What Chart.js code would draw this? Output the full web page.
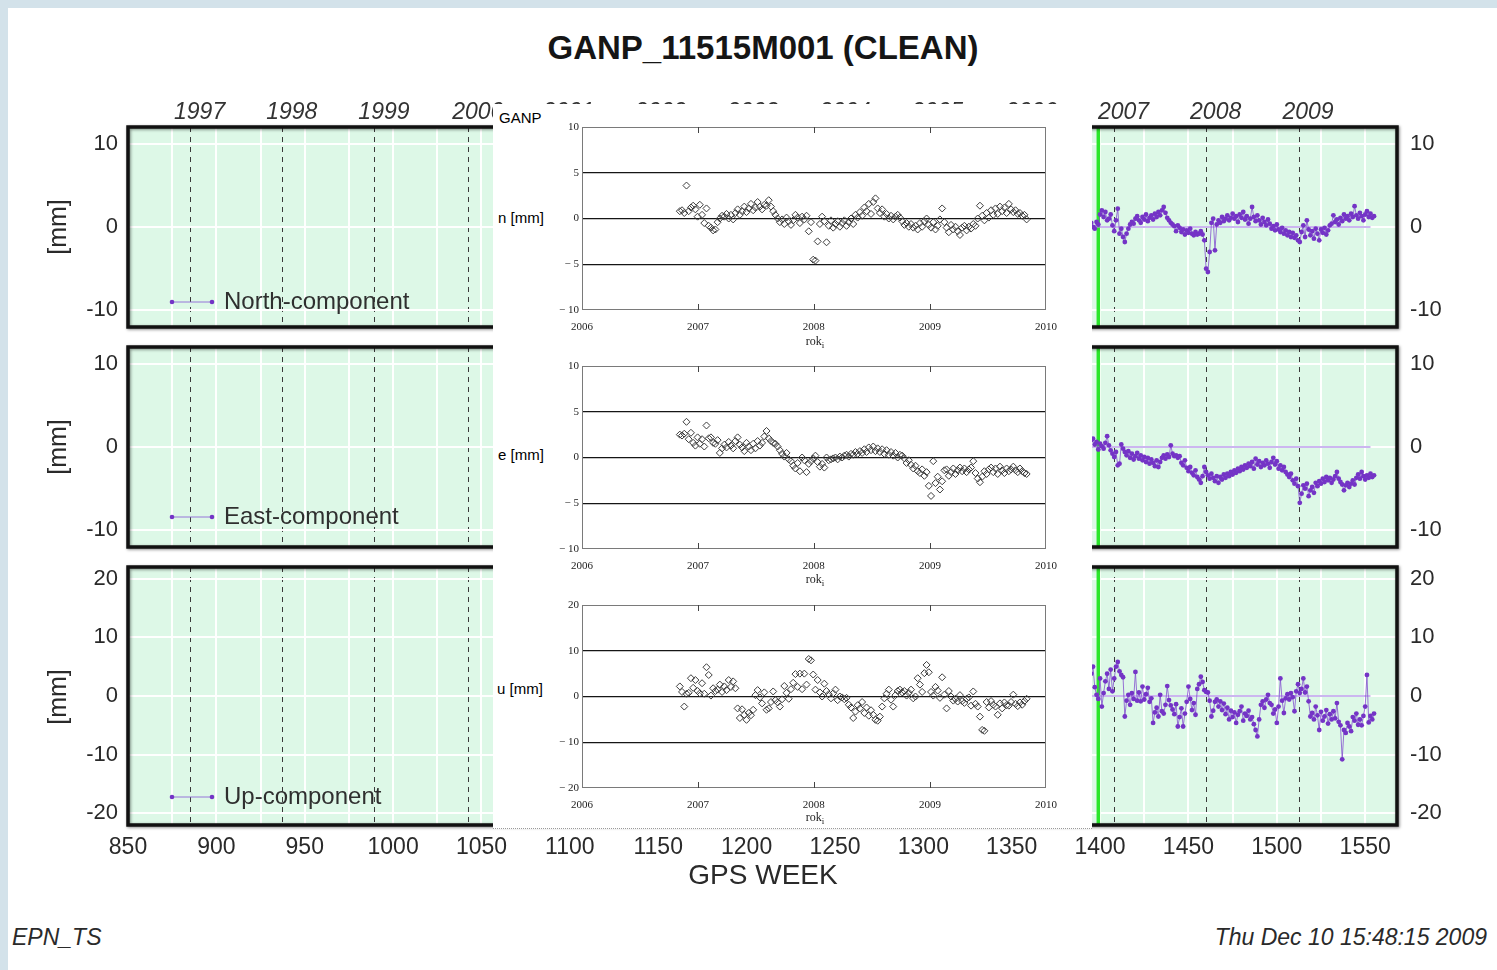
<!DOCTYPE html>
<html>
<head>
<meta charset="utf-8">
<script src="https://cdn.jsdelivr.net/npm/chart.js@4.4.0/dist/chart.umd.min.js"></script>
<style>
  html, body { margin:0; padding:0; }
  body { width:1497px; height:970px; overflow:hidden; background:#d3e2ea; position:relative;
         font-family:"Liberation Sans", Arial, sans-serif; color:#222; }
  .abs { position:absolute; }
  #page { left:8px; top:8px; width:1489px; height:962px; background:#fff; }
  #title { left:0; width:1526px; top:30px; text-align:center; font-weight:bold; font-size:33px; line-height:36px; color:#151515; }
  .mm { font-size:25px; line-height:28px; width:80px; text-align:center; transform:rotate(-90deg); color:#2a2a2a; }
  #gpsweek { left:0; width:1526px; top:858px; text-align:center; font-size:28px; line-height:34px; color:#2a2a2a; }
  #epn { left:12px; top:923px; font-size:23px; line-height:28px; font-style:italic; color:#2a2a2a; }
  #stamp { right:10px; top:923px; font-size:23px; line-height:28px; font-style:italic; color:#2a2a2a; }
  #overlay { left:493px; top:104px; width:599px; height:724px; background:#fff; border-bottom:1px dotted #9a9a9a; z-index:5; }
  .ilab { font-size:15px; line-height:18px; color:#000; }
  .rok { font-family:"Liberation Serif", "DejaVu Serif", serif; font-size:12px; line-height:14px; width:60px; text-align:center; color:#222; }
</style>
</head>
<body>
<div id="page" class="abs"></div>
<div id="title" class="abs">GANP_11515M001 (CLEAN)</div>

<canvas id="bg1" class="abs" width="1497" height="250" style="left:0;top:90px;"></canvas>
<canvas id="bg2" class="abs" width="1497" height="220" style="left:0;top:340px;"></canvas>
<canvas id="bg3" class="abs" width="1497" height="340" style="left:0;top:560px;"></canvas>

<div class="abs mm" style="left:17px;top:213px;">[mm]</div>
<div class="abs mm" style="left:17px;top:433px;">[mm]</div>
<div class="abs mm" style="left:17px;top:683px;">[mm]</div>

<div id="gpsweek" class="abs">GPS WEEK</div>
<div id="epn" class="abs">EPN_TS</div>
<div id="stamp" class="abs">Thu Dec 10 15:48:15 2009</div>

<div id="overlay" class="abs">
  <div class="abs ilab" style="left:6px;top:5px;">GANP</div>
  <div class="abs ilab" style="left:5px;top:105px;">n [mm]</div>
  <div class="abs ilab" style="left:5px;top:342px;">e [mm]</div>
  <div class="abs ilab" style="left:4px;top:576px;">u [mm]</div>
  <canvas id="in1" class="abs" width="599" height="240" style="left:0;top:6px;"></canvas>
  <canvas id="in2" class="abs" width="599" height="238" style="left:0;top:246px;"></canvas>
  <canvas id="in3" class="abs" width="599" height="238" style="left:0;top:484px;"></canvas>
  <div class="abs rok" style="left:292px;top:230px;">rok<sub style="font-size:9px">i</sub></div>
  <div class="abs rok" style="left:292px;top:468px;">rok<sub style="font-size:9px">i</sub></div>
  <div class="abs rok" style="left:292px;top:706px;">rok<sub style="font-size:9px">i</sub></div>
</div>

<script>
// ---------------- DATA ----------------
// EPN time series (background panels), GPS weeks
const bgWeeks = [
1393,1394,1395,1396,1397,1398,1399,1400,1401,1402,
1403,1404,1405,1406,1407,1408,1409,1410,1411,1412,
1413,1414,1415,1416,1417,1418,1419,1420,1421,1422,
1423,1424,1425,1426,1427,1428,1429,1430,1431,1432,
1433,1434,1435,1436,1437,1438,1439,1440,1441,1442,
1443,1444,1445,1446,1447,1448,1449,1450,1451,1452,
1453,1454,1455,1456,1457,1458,1459,1460,1461,1462,
1463,1464,1465,1466,1467,1468,1469,1470,1471,1472,
1473,1474,1475,1476,1477,1478,1479,1480,1481,1482,
1483,1484,1485,1486,1487,1488,1489,1490,1491,1492,
1493,1494,1495,1496,1497,1498,1499,1500,1501,1502,
1503,1504,1505,1506,1507,1508,1509,1510,1511,1512,
1513,1514,1515,1516,1517,1518,1519,1520,1521,1522,
1523,1524,1525,1526,1527,1528,1529,1530,1531,1532,
1533,1534,1535,1536,1537,1538,1539,1540,1541,1542,
1543,1544,1545,1546,1547,1548,1549,1550,1551,1552,
1553,1554,1555];

const northBg = [
0.2,-0.3,0.5,0.0,-0.2,0.6,0.3,1.5,2.0,1.2,
1.8,0.8,1.0,1.5,0.2,-0.5,0.8,2.2,-0.8,-0.2,
-1.2,-1.8,-0.8,-0.2,0.3,0.6,0.4,1.0,1.3,0.8,
0.5,1.2,0.9,1.5,0.7,1.1,1.4,0.9,1.6,1.2,
1.8,1.4,2.0,2.4,1.7,1.1,0.8,0.5,0.3,0.1,
-0.5,0.2,-0.1,-0.6,-0.3,-0.9,-0.4,-0.7,-0.2,-0.8,
-1.0,-0.6,-0.9,-0.8,-0.5,-0.9,-1.6,-5.0,-5.4,-3.0,
0.5,1.0,-2.8,0.3,0.8,0.5,1.2,0.7,1.0,1.4,
0.8,1.1,1.6,1.0,1.3,0.6,1.5,1.1,1.8,0.9,
1.3,0.4,1.0,2.4,1.2,0.7,1.4,0.8,0.3,1.1,
0.6,0.2,0.9,0.4,-0.2,0.1,-0.4,0.3,-0.3,-0.6,
-0.1,-0.8,-0.4,-1.0,-0.6,-1.2,-0.7,-1.3,-1.0,-1.6,
-1.8,-0.6,0.2,-1.2,0.8,-0.3,-1.0,-0.5,-1.4,-0.2,
-0.8,-1.6,-0.3,-0.7,-0.1,-0.9,-0.4,0.2,0.4,1.4,
0.6,0.9,0.3,1.1,0.7,1.5,1.0,1.3,0.8,1.6,
1.2,2.5,1.4,1.0,1.7,1.3,0.8,1.5,1.9,1.2,
1.6,1.1,1.3];

const eastBg = [
0.5,0.2,0.8,1.0,0.3,0.6,-0.3,0.4,0.1,-0.2,
0.5,1.3,0.2,-0.4,-0.8,-1.2,-0.6,-2.2,-2.0,0.3,
-0.2,-0.6,-1.0,-0.5,-1.3,-0.8,-1.5,-1.1,-0.7,-1.4,
-1.0,-1.6,-1.2,-1.8,-1.3,-2.0,-1.5,-1.9,-2.3,-1.6,
-2.4,-1.8,-1.3,-1.0,-1.4,-0.9,-1.2,0.2,-0.8,-1.1,
-1.0,-1.3,-1.1,-1.9,-2.2,-1.6,-2.5,-2.9,-2.4,-3.1,
-3.4,-2.8,-3.6,-3.9,-4.3,-3.5,-2.4,-3.0,-3.4,-3.8,
-3.2,-3.7,-4.1,-3.5,-4.3,-3.6,-3.9,-3.3,-3.7,-3.2,
-3.5,-3.0,-3.3,-2.8,-3.1,-2.6,-2.9,-2.4,-2.7,-2.2,
-2.5,-2.0,-2.3,-1.8,-2.6,-1.4,-2.1,-1.7,-2.4,-1.9,
-2.2,-1.6,-2.0,-2.5,-1.8,-1.3,-2.1,-1.7,-2.6,-2.2,
-2.8,-2.4,-3.0,-3.3,-3.6,-3.2,-4.0,-4.4,-3.8,-4.7,
-6.7,-5.6,-4.6,-5.0,-4.4,-5.9,-5.2,-4.8,-5.5,-4.3,
-4.7,-4.1,-4.4,-3.8,-4.2,-3.6,-4.0,-3.7,-4.3,-3.9,
-3.5,-3.0,-3.8,-4.2,-4.5,-5.2,-4.6,-4.3,-4.8,-4.4,
-4.0,-4.5,-3.7,-3.3,-3.8,-3.0,-3.5,-3.9,-3.4,-3.7,
-3.2,-3.6,-3.4];

const upBg = [
2.0,0.5,3.8,5.0,1.5,0.2,-0.5,3.0,-1.8,0.5,
2.5,3.8,1.2,4.5,0.8,3.0,5.0,5.8,4.2,3.6,
3.2,-3.5,-0.8,0.2,-1.5,0.5,-0.5,4.1,-0.8,0.6,
-0.9,1.6,-0.6,0.3,1.4,-1.0,-0.4,-4.6,-2.8,-2.0,
-3.5,0.2,-2.6,-3.0,-1.5,1.7,-0.7,-1.6,-2.3,-3.1,
-1.4,-5.2,-3.6,-2.1,-5.2,-3.0,-1.0,1.6,-0.5,-2.4,
-1.2,-3.2,1.2,2.0,3.3,2.4,1.0,0.7,0.6,-0.8,
-3.5,-2.5,-1.0,-0.6,-1.8,-0.9,-2.4,-1.3,-3.1,-2.0,
-4.0,-2.5,-3.6,-2.8,-4.6,-3.2,-2.6,-1.8,-4.2,-3.0,
-3.4,-2.5,-4.0,-3.6,-4.8,-5.8,-6.9,-4.0,-1.5,-0.9,
-2.0,-0.6,0.2,-1.2,-1.5,-3.0,-2.3,-4.6,-1.8,3.0,
-0.8,-2.9,-0.4,0.3,-0.6,0.5,-0.2,-2.6,0.8,2.0,
0.5,1.2,3.0,0.6,1.6,-0.9,-3.5,-2.9,-4.0,-1.8,
-3.3,-5.8,-2.7,-4.2,-3.5,-2.4,-4.7,-3.1,-4.0,-2.6,
-3.8,-1.2,-4.4,-5.0,-10.8,-5.8,-6.3,-4.6,-5.2,-6.0,
-3.6,-4.2,-3.0,-4.9,-4.0,-5.0,-3.4,-1.8,3.6,-4.5,
-3.4,-4.0,-3.0];

// reference (zero) line of the fitted model and start of the clean period
const modelWeeks = [1393, 1553];
const modelValues = [0, 0];
const cleanStartWeek = 1399;

// GANP inset series (Mathcad plot), same epochs expressed in GPS weeks
const insetWeeks = [
1400,1401,1402,1403,1404,1405,1406,1407,1408,1409,
1410,1411,1412,1413,1414,1415,1416,1417,1418,1419,
1420,1421,1422,1423,1424,1425,1426,1427,1428,1429,
1430,1431,1432,1433,1434,1435,1436,1437,1438,1439,
1440,1441,1442,1443,1444,1445,1446,1447,1448,1449,
1450,1451,1452,1453,1454,1455,1456,1457,1458,1459,
1460,1461,1462,1463,1464,1465,1466,1467,1468,1469,
1470,1471,1472,1473,1474,1475,1476,1477,1478,1479,
1480,1481,1482,1483,1484,1485,1486,1487,1488,1489,
1490,1491,1492,1493,1494,1495,1496,1497,1498,1499,
1500,1501,1502,1503,1504,1505,1506,1507,1508,1509,
1510,1511,1512,1513,1514,1515,1516,1517,1518,1519,
1520,1521,1522,1523,1524,1525,1526,1527,1528,1529,
1530,1531,1532,1533,1534,1535,1536,1537,1538,1539,
1540,1541,1542,1543,1544,1545,1546,1547,1548,1549,
1550,1551,1552,1553,1554,1555,1556];

const northInset = [
0.8,0.9,0.6,3.6,0.8,1.2,1.4,1.0,0.2,1.5,
0.4,-0.5,1.1,-0.8,-1.0,-1.3,-1.2,-0.4,0.0,0.3,
0.2,0.5,0.0,0.4,-0.1,0.6,1.0,0.4,0.8,1.3,
0.7,1.1,1.6,0.9,1.2,1.8,1.3,1.0,1.5,1.4,
2.0,1.3,0.8,0.4,0.0,-0.4,-0.1,-0.6,0.1,-0.3,
-0.7,-0.2,0.4,0.1,-0.5,0.2,-0.1,0.3,-1.4,-0.4,
-4.5,-4.6,-2.5,-0.6,0.2,-0.3,-2.6,-0.8,-0.2,-1.0,
-0.6,-0.3,-0.9,-0.5,-0.2,-0.8,-0.4,0.0,-0.6,0.4,
0.1,0.7,0.3,1.2,0.8,1.6,0.5,1.8,2.2,1.1,
0.6,1.0,0.2,0.5,0.0,0.3,-0.1,0.2,0.4,0.1,
-0.3,-0.7,-0.5,-0.9,-0.6,-1.0,-0.8,-1.2,-0.5,-0.9,
-0.3,0.0,-0.7,-1.0,-0.4,-1.2,-0.8,-0.1,1.1,-0.4,
-1.0,-1.5,-0.7,-1.2,-0.9,-1.4,-1.8,-1.0,-0.8,-1.3,
-0.9,-1.1,-0.6,-0.8,0.0,1.4,0.3,-0.2,0.6,0.1,
0.9,0.4,1.1,0.5,1.3,0.8,1.2,0.6,1.6,1.0,
0.7,0.9,0.5,0.6,0.3,0.4,-0.1];

const eastInset = [
2.5,2.4,2.6,3.9,2.0,2.7,1.6,1.3,2.2,1.5,
2.0,1.2,3.5,2.1,2.2,1.6,1.5,1.9,0.5,1.0,
1.4,1.1,1.7,1.3,1.0,1.8,2.2,1.4,1.1,0.7,
1.6,1.2,0.8,1.5,1.0,1.8,1.3,1.6,2.3,2.9,
2.1,1.8,1.6,1.5,1.2,0.8,0.4,0.1,0.5,-0.2,
-0.4,-0.9,-1.2,-0.6,-1.5,0.0,-0.3,-1.6,-0.7,-0.4,
-0.1,0.2,-0.5,-1.0,-0.7,-1.1,0.0,-0.3,-0.2,-0.1,
0.0,-0.2,0.1,0.0,0.2,0.3,0.1,0.4,0.3,0.6,
0.4,0.7,0.5,0.9,0.6,1.1,0.8,1.2,0.7,1.0,
0.6,0.9,0.4,0.8,0.3,0.6,0.2,0.5,0.0,0.3,
0.2,-0.1,-0.6,-0.3,-0.8,-1.2,-0.9,-1.5,-1.7,-1.3,
-2.0,-1.6,-3.1,-4.2,-0.4,-2.8,-2.1,-3.5,-2.6,-1.4,
-1.3,-2.0,-1.6,-1.2,-1.8,-1.4,-1.1,-1.5,-1.2,-1.6,
-1.3,-1.1,-0.4,-1.7,-2.3,-2.7,-2.1,-1.5,-1.8,-1.3,
-1.1,-1.6,-1.2,-1.8,-1.0,-1.4,-1.7,-1.2,-1.5,-1.3,
-1.0,-1.4,-1.6,-1.2,-1.5,-1.7,-1.8];

const upInset = [
2.2,1.0,-2.2,0.6,0.8,4.0,1.9,3.6,1.2,0.7,
2.9,0.6,6.4,4.7,0.2,1.8,1.2,1.5,2.6,1.0,
2.2,1.4,3.6,2.1,3.3,1.8,-2.6,-4.7,-2.8,-4.0,
-5.1,-3.6,-4.1,-2.9,0.3,1.4,-0.2,-1.5,0.9,-2.9,
-2.6,-1.2,1.1,-0.8,-1.3,-2.2,-0.6,2.3,0.8,-0.5,
1.6,3.0,4.9,2.1,5.0,1.6,5.0,2.6,8.2,7.9,
4.8,1.5,3.6,0.9,0.0,2.8,1.2,0.5,-0.4,0.7,
1.5,-0.8,0.0,-0.2,-0.6,-0.3,-1.8,-2.4,-4.7,-3.3,
-1.9,-2.6,-1.2,-3.6,-2.4,-4.2,-3.0,-4.0,-5.1,-5.3,
-4.4,-2.2,-0.4,0.6,1.5,-0.7,-2.2,0.3,1.2,1.5,
0.9,1.2,0.2,0.8,1.5,-0.4,0.0,4.0,2.6,1.0,
5.1,6.9,5.3,1.0,0.2,2.1,1.3,-0.3,4.2,0.4,
-2.6,1.2,0.0,-0.9,-0.5,-1.1,0.3,-1.0,-1.4,-0.5,
-0.2,-2.0,1.1,-1.6,-2.2,-4.4,-7.3,-7.5,-1.2,-2.4,
-1.0,-1.8,-2.2,-4.0,-1.5,-2.6,-1.3,-1.9,-2.0,-1.2,
0.4,-1.6,-2.1,-1.3,-1.8,-1.0,-0.5];

// axes / tick definitions
const weekMin = 850, weekMax = 1568;
const weekTicks = [850,875,900,925,950,975,1000,1025,1050,1075,1100,1125,1150,1175,1200,1225,1250,1275,1300,1325,1350,1375,1400,1425,1450,1475,1500,1525,1550];
const yearLabels = ['1997','1998','1999','2000','2001','2002','2003','2004','2005','2006','2007','2008','2009'];
const yearWeeks  = [885.43,937.57,989.71,1042.86,1094.14,1146.29,1198.43,1250.57,1302.86,1356.0,1408.14,1460.29,1512.57];
const enRange = 12, upRange = 22;
const enTicks = [-10,0,10];
const upTicks = [-20,-10,0,10,20];
const insetYearLabels = ['2006','2007','2008','2009','2010'];
const insetYearWeeks  = [1356.0,1408.14,1460.29,1512.57,1564.71];
const insetEnTicks = [-10,-5,0,5,10];
const insetUpTicks = [-20,-10,0,10,20];

// ---------------- CHARTS ----------------
const SANS = '"Liberation Sans", Arial, Helvetica, sans-serif';
const SERIF = '"Liberation Serif", "Times New Roman", serif';
const PURPLE = '#7434c6';

function pts(xs, ys) { return xs.map((x, i) => ({ x: x, y: ys[i] })); }
function noPad(s) { s.paddingTop = 0; s.paddingBottom = 0; s.paddingLeft = 0; s.paddingRight = 0; }

function bgChart(id, values, range, yTicks, legendText, legendUp, topH, bottomH, showYears, showWeeks) {
  const framePlugin = {
    id: 'frameBg',
    beforeDraw(chart) {
      const a = chart.chartArea, ctx = chart.ctx;
      ctx.save(); ctx.fillStyle = '#ddf8e7';
      ctx.fillRect(a.left, a.top, a.right - a.left, a.bottom - a.top);
      ctx.restore();
    },
    afterDraw(chart) {
      const a = chart.chartArea, ctx = chart.ctx;
      ctx.save();
      ctx.shadowColor = 'rgba(0,0,0,0.45)'; ctx.shadowBlur = 3; ctx.shadowOffsetX = 1; ctx.shadowOffsetY = 1;
      ctx.strokeStyle = '#111'; ctx.lineWidth = 3.5;
      ctx.strokeRect(a.left, a.top, a.right - a.left, a.bottom - a.top);
      ctx.restore();
      // legend
      const y = a.bottom - legendUp;
      ctx.save();
      ctx.strokeStyle = 'rgba(140,95,215,0.85)'; ctx.lineWidth = 1;
      ctx.beginPath(); ctx.moveTo(a.left + 44, y); ctx.lineTo(a.left + 84, y); ctx.stroke();
      ctx.fillStyle = PURPLE;
      [a.left + 44, a.left + 84].forEach(px => { ctx.beginPath(); ctx.arc(px, y, 2.3, 0, Math.PI * 2); ctx.fill(); });
      ctx.font = '24px ' + SANS; ctx.fillStyle = '#2f2f2f'; ctx.textBaseline = 'middle';
      ctx.fillText(legendText, a.left + 96, y);
      ctx.restore();
    }
  };
  return new Chart(document.getElementById(id), {
    type: 'scatter',
    data: { datasets: [
      { data: pts(bgWeeks, values), showLine: true, order: 0,
        borderColor: 'rgba(125,70,205,0.75)', borderWidth: 1,
        pointRadius: 2.4, pointBackgroundColor: PURPLE, pointBorderWidth: 0 },
      { data: pts(modelWeeks, modelValues), showLine: true, order: 1,
        borderColor: 'rgba(175,140,230,0.85)', borderWidth: 1.5, pointRadius: 0 },
      { data: [{ x: cleanStartWeek, y: -range }, { x: cleanStartWeek, y: range }], showLine: true, order: 2,
        borderColor: '#2be62b', borderWidth: 3.5, pointRadius: 0 }
    ]},
    options: {
      responsive: false, animation: false, devicePixelRatio: 1, events: [],
      layout: { autoPadding: false, padding: 0 },
      plugins: { legend: { display: false }, tooltip: { enabled: false } },
      scales: {
        x: { type: 'linear', position: 'bottom', min: weekMin, max: weekMax,
             afterBuildTicks: s => { s.ticks = weekTicks.map(v => ({ value: v })); },
             ticks: { display: showWeeks, callback: v => (v % 50 === 0 ? String(v) : ''), autoSkip: false, maxRotation: 0,
                      font: { family: SANS, size: 23 }, color: '#2a2a2a', padding: 9 },
             grid: { color: 'rgba(255,255,255,0.95)', lineWidth: 2, drawTicks: false },
             border: { display: false },
             afterFit: s => { s.height = bottomH; noPad(s); } },
        xTop: { type: 'linear', position: 'top', min: weekMin, max: weekMax,
             afterBuildTicks: s => { s.ticks = yearWeeks.map(v => ({ value: v })); },
             ticks: { display: showYears, callback: (v, i) => yearLabels[i], autoSkip: false, maxRotation: 0,
                      font: { family: SANS, size: 23, style: 'italic' }, color: '#333', padding: 1, labelOffset: 9 },
             grid: { color: '#3a3a3a', lineWidth: 1, drawTicks: false },
             border: { display: false, dash: [5, 5] },
             afterFit: s => { s.height = topH; noPad(s); } },
        y: { position: 'left', min: -range, max: range,
             afterBuildTicks: s => { s.ticks = yTicks.map(v => ({ value: v })); },
             ticks: { font: { family: SANS, size: 22 }, color: '#2a2a2a', padding: 10 },
             grid: { color: 'rgba(255,255,255,0.95)', lineWidth: 2, drawTicks: false },
             border: { display: false },
             afterFit: s => { s.width = 128; noPad(s); } },
        y2: { position: 'right', min: -range, max: range,
             afterBuildTicks: s => { s.ticks = yTicks.map(v => ({ value: v })); },
             ticks: { font: { family: SANS, size: 22 }, color: '#2a2a2a', padding: 13 },
             grid: { drawOnChartArea: false, drawTicks: false },
             border: { display: false },
             afterFit: s => { s.width = 100; noPad(s); } }
      }
    },
    plugins: [framePlugin]
  });
}

function insetChart(id, values, range, yTicks, padTop, bottomH) {
  const framePlugin = {
    id: 'frameIn',
    afterDraw(chart) {
      const a = chart.chartArea, ctx = chart.ctx, xs = chart.scales.x;
      ctx.save();
      ctx.strokeStyle = '#7a7a7a'; ctx.lineWidth = 1;
      ctx.strokeRect(a.left + 0.5, a.top + 0.5, a.right - a.left - 1, a.bottom - a.top - 1);
      ctx.strokeStyle = '#444';
      insetYearWeeks.slice(1, 4).forEach(w => {
        const px = Math.round(xs.getPixelForValue(w)) + 0.5;
        ctx.beginPath(); ctx.moveTo(px, a.top); ctx.lineTo(px, a.top + 6); ctx.stroke();
        ctx.beginPath(); ctx.moveTo(px, a.bottom); ctx.lineTo(px, a.bottom - 6); ctx.stroke();
      });
      ctx.restore();
    }
  };
  return new Chart(document.getElementById(id), {
    type: 'scatter',
    data: { datasets: [
      { data: pts(insetWeeks, values), pointStyle: 'rectRot', pointRadius: 3.5,
        borderColor: '#3c3c3c', backgroundColor: 'rgba(255,255,255,0)', borderWidth: 1 }
    ]},
    options: {
      responsive: false, animation: false, devicePixelRatio: 1, events: [],
      layout: { autoPadding: false, padding: { top: padTop, right: 46, left: 0, bottom: 0 } },
      plugins: { legend: { display: false }, tooltip: { enabled: false } },
      scales: {
        x: { type: 'linear', min: insetYearWeeks[0], max: insetYearWeeks[4],
             afterBuildTicks: s => { s.ticks = insetYearWeeks.map(v => ({ value: v })); },
             ticks: { callback: (v, i) => insetYearLabels[i], autoSkip: false, maxRotation: 0,
                      font: { family: SERIF, size: 11 }, color: '#222', padding: 3 },
             grid: { display: false }, border: { display: false },
             afterFit: s => { s.height = bottomH; noPad(s); } },
        y: { min: -range, max: range,
             afterBuildTicks: s => { s.ticks = yTicks.map(v => ({ value: v })); },
             ticks: { callback: v => (v < 0 ? '\u2212 ' + Math.abs(v) : String(v)),
                      font: { family: SERIF, size: 11 }, color: '#222', padding: 3 },
             grid: { color: c => (Math.abs(c.tick.value) === yTicks[yTicks.length - 1] ? 'rgba(0,0,0,0)' : '#151515'),
                     lineWidth: 1.3, drawTicks: false },
             border: { display: false },
             afterFit: s => { s.width = 89; noPad(s); } }
      }
    },
    plugins: [framePlugin]
  });
}

bgChart('bg1', northBg, enRange, enTicks, 'North-component', 25, 37, 13, true, false);
bgChart('bg2', eastBg, enRange, enTicks, 'East-component', 30, 7, 13, false, false);
bgChart('bg3', upBg, upRange, upTicks, 'Up-component', 28, 7, 75, false, true);

insetChart('in1', northInset, 10, insetEnTicks, 17, 40);
insetChart('in2', eastInset, 10, insetEnTicks, 16, 39);
insetChart('in3', upInset, 20, insetUpTicks, 17, 38);
</script>
</body>
</html>
